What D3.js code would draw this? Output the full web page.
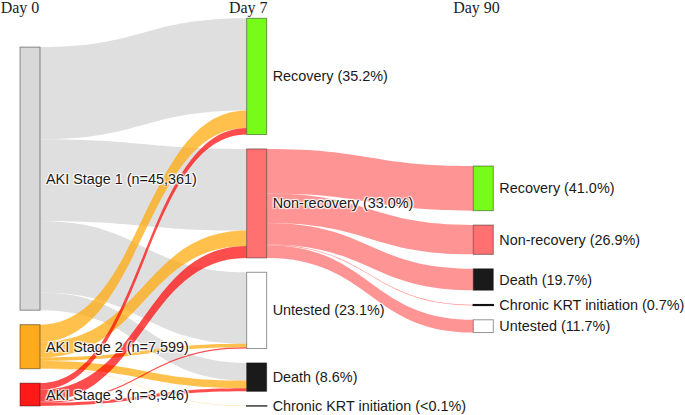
<!DOCTYPE html>
<html><head><meta charset="utf-8">
<script src="https://cdn.jsdelivr.net/npm/d3@7"></script>
<style>
html,body{margin:0;padding:0;background:#fff;}
.lbl{font-family:"Liberation Sans",Arial,sans-serif;font-size:14.4px;fill:#1a1a1a;
 text-shadow:1px 1px 1px #fff,-1px -1px 1px #fff,1px -1px 1px #fff,-1px 1px 1px #fff;}
.hdr{font-family:"Liberation Serif","Times New Roman",serif;font-size:16px;fill:#222;}
</style></head>
<body><svg id="c" width="685" height="415"></svg>
<script>
// ---- data ----
const headers = ["Day 0", "Day 7", "Day 90"];
const day0Labels = ["AKI Stage 1 (n=45,361)", "AKI Stage 2 (n=7,599)", "AKI Stage 3 (n=3,946)"];
const day7Labels = ["Recovery (35.2%)", "Non-recovery (33.0%)", "Untested (23.1%)", "Death (8.6%)", "Chronic KRT initiation (<0.1%)"];
const day90Labels = ["Recovery (41.0%)", "Non-recovery (26.9%)", "Death (19.7%)", "Chronic KRT initiation (0.7%)", "Untested (11.7%)"];
// flows Day 0 stage -> Day 7 outcome (Recovery, Non-recovery, Untested, Death, Chronic KRT)
const stage1ToDay7 = [15890, 14080, 12340, 3046, 5];
const stage2ToDay7 = [3000, 2650, 600, 1334, 15];
const stage3ToDay7 = [1150, 2050, 200, 526, 20];
// flows Day 7 Non-recovery -> Day 90 outcome (Recovery, Non-recovery, Death, Chronic KRT, Untested)
const nonRecToDay90 = [7700, 5052, 3700, 131, 2197];

// ---- styles ----
const day0Colors = ["#d8d8d8", "#fdab1c", "#ff1a1a"];
const day0Links = ["rgba(211,211,211,0.72)", "rgba(255,165,0,0.7)", "rgba(255,0,0,0.7)"];
const day7Colors = ["#77fb18", "#ff7171", "#ffffff", "#1a1a1a", "#555555"];
const day90Colors = ["#77fb18", "#ff7171", "#1a1a1a", "#111111", "#ffffff"];
const nonRecLink = "rgba(255,102,102,0.7)";

const svg = d3.select("#c");
const yTop = 18.3, yBottom = 406, nodeW = 20, pad = 14.4, col2Top = 166;
const colX = d3.scaleLinear().domain([0, 2]).range([20, 473.3]);

const srcRows = [stage1ToDay7, stage2ToDay7, stage3ToDay7];
const day0Vals = srcRows.map(r => d3.sum(r));
const day7Vals = day7Labels.map((_, j) => d3.sum(srcRows, r => r[j]));
const day90Vals = nonRecToDay90.slice();
const total = d3.sum(day7Vals);
const ky = d3.scaleLinear().domain([0, total]).range([0, yBottom - yTop - pad * (day7Vals.length - 1)]);

function stack(vals, start) {
  let y = start; return vals.map(v => { const n = {y0: y, y1: y + ky(v), v}; y = n.y1 + pad; return n; });
}
const h0 = d3.sum(day0Vals, ky) + pad * (day0Vals.length - 1);
const n0 = stack(day0Vals, yBottom - h0);
const n1 = stack(day7Vals, yTop);
const n2 = stack(day90Vals, col2Top);

function linkPath(x0, a0, a1, x1, b0, b1) {
  const xm = (x0 + x1) / 2;
  return `M${x0},${a0}C${xm},${a0} ${xm},${b0} ${x1},${b0}L${x1},${b1}C${xm},${b1} ${xm},${a1} ${x0},${a1}Z`;
}
const gL = svg.append("g");
const inOff = n1.map(n => n.y0);
const links01 = [];
srcRows.forEach((row, i) => {
  let so = n0[i].y0;
  row.forEach((v, j) => {
    const h = ky(v);
    links01.push({i, j, a0: so, a1: so + h, b0: inOff[j], b1: inOff[j] + h});
    so += h; inOff[j] += h;
  });
});
gL.selectAll("path.l01").data(links01).join("path").attr("class", "l01")
  .attr("d", d => linkPath(colX(0) + nodeW, d.a0, d.a1, colX(1), d.b0, d.b1))
  .attr("fill", d => day0Links[d.i]);
let so2 = n1[1].y0;
const links12 = nonRecToDay90.map((v, j) => {
  const h = ky(v); const d = {j, a0: so2, a1: so2 + h, b0: n2[j].y0, b1: n2[j].y0 + h}; so2 += h; return d;
});
gL.selectAll("path.l12").data(links12).join("path").attr("class", "l12")
  .attr("d", d => linkPath(colX(1) + nodeW, d.a0, d.a1, colX(2), d.b0, d.b1))
  .attr("fill", nonRecLink);

function drawNodes(nodes, col, colors, labels) {
  const g = svg.append("g");
  g.selectAll("rect").data(nodes).join("rect")
    .attr("x", colX(col)).attr("width", nodeW)
    .attr("y", d => d.y0).attr("height", d => Math.max(d.y1 - d.y0, 0.3))
    .attr("fill", (d, i) => colors[i])
    .attr("stroke", (d, i) => (d.y1 - d.y0) < 2 ? colors[i] : "rgba(0,0,0,0.42)")
    .attr("stroke-width", (d) => (d.y1 - d.y0) < 2 ? 1.4 : 1);
  g.selectAll("text").data(nodes).join("text").attr("class", "lbl")
    .attr("x", colX(col) + nodeW + 6).attr("y", d => (d.y0 + d.y1) / 2)
    .attr("dy", "0.35em").text((d, i) => labels[i]);
}
drawNodes(n0, 0, day0Colors, day0Labels);
drawNodes(n1, 1, day7Colors, day7Labels);
drawNodes(n2, 2, day90Colors, day90Labels);

svg.selectAll("text.hdr").data(headers).join("text").attr("class", "hdr")
  .attr("x", (d, i) => colX(i) + i * 1.6).attr("y", 12.5).attr("text-anchor", "middle").text(d => d);
</script></body></html>
